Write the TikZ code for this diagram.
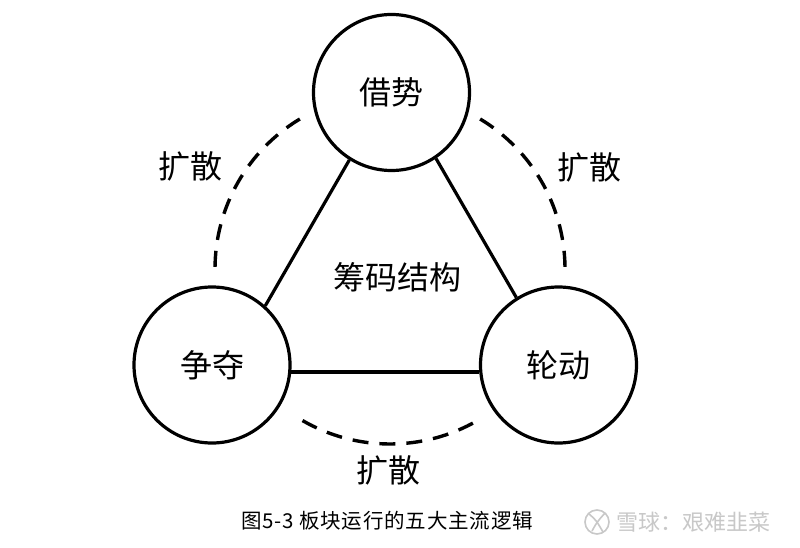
\documentclass[tikz,border=0pt]{standalone}
\usepackage{fontspec}
\newfontfamily\song{Noto Sans CJK SC}
\newfontfamily\cjksans{Noto Sans CJK SC}
\newfontfamily\capfont[LetterSpace=4]{Noto Sans CJK SC}
\begin{document}
\begin{tikzpicture}[x=1pt,y=1pt,
  bubble/.style={circle,draw,line width=3.2pt,minimum size=156pt,inner sep=0pt,font=\song\fontsize{32}{32}\selectfont},
  link/.style={line width=3.2pt},
  spread/.style={line width=3.4pt,dash pattern=on 16pt off 11pt},
  lbl/.style={font=\song\fontsize{32}{32}\selectfont,inner sep=0pt}]
\fill[white] (0,0) rectangle (800,-548);
\useasboundingbox (0,0) rectangle (800,-548);
\coordinate (C) at (390,-269);
\node[bubble] (t) at (391.5,-92.5) {借势};
\node[bubble] (l) at (212,-365) {争夺};
\node[bubble] (r) at (558.5,-365) {轮动};
\draw[link] (t.238) -- (l.48.5);
\draw[link] (t.304) -- (r.122.6);
\draw[link] (l.-5) -- (r.185);
\draw[spread] ([shift={(121:175)}]C) arc[start angle=121,end angle=180,radius=175];
\draw[spread] ([shift={(59:175)}]C) arc[start angle=59,end angle=-1,radius=175];
\draw[spread] ([shift={(240:175)}]C) arc[start angle=240,end angle=300,radius=175];
\node[lbl] (center) at (397,-277) {筹码结构};
\node[lbl] (sl) at (190,-166) {扩散};
\node[lbl] (sr) at (589,-167) {扩散};
\node[lbl] (sb) at (388,-470) {扩散};
\node[font=\capfont\fontsize{20.5}{20.5}\selectfont,inner sep=0pt] (cap) at (387,-521) {图5-3 板块运行的五大主流逻辑};
\draw[color={rgb,255:red,200;green,200;blue,200},line width=1.6pt] (597,-522) circle[radius=12];
\draw[color={rgb,255:red,200;green,200;blue,200},line width=1.6pt] (589,-514) .. controls (596,-520) .. (603,-532);
\draw[color={rgb,255:red,200;green,200;blue,200},line width=1.6pt] (605,-513) .. controls (597,-522) .. (592,-531);
\node[font=\cjksans\fontsize{22}{22}\selectfont,inner sep=0pt,text={rgb,255:red,200;green,200;blue,200},anchor=west] (wm) at (616,-522) {雪球：艰难韭菜};
\end{tikzpicture}
\end{document}
